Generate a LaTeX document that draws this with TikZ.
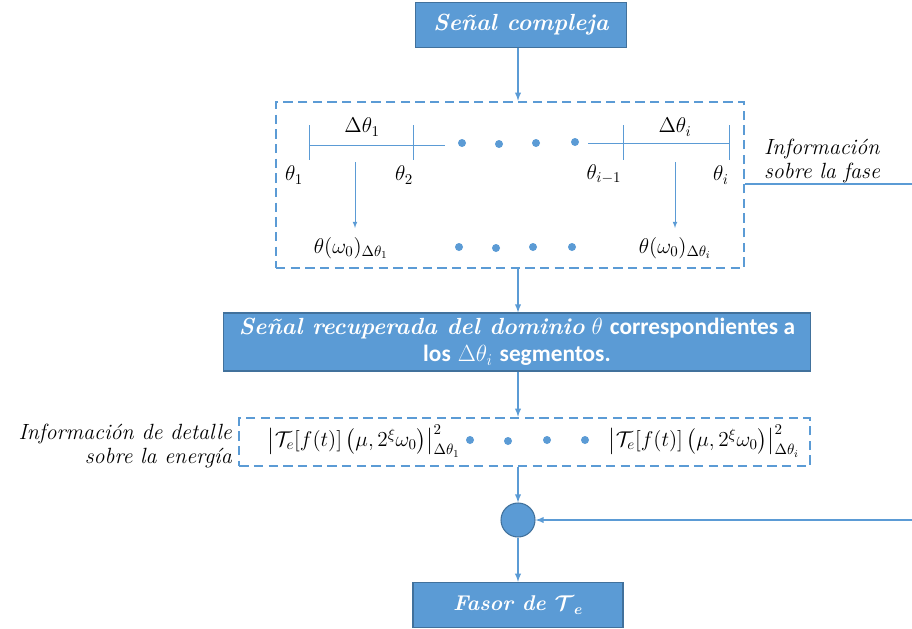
\documentclass[tikz,border=0pt]{standalone}
\usepackage{fix-cm}
\usepackage{amsmath}
\usepackage{amssymb}
\usepackage{bm}
\usepackage{fontspec}
\newfontfamily\calibri{Carlito}
\usetikzlibrary{positioning}

\definecolor{azul}{HTML}{5B9BD5}
\definecolor{borde}{HTML}{41719C}

\begin{document}
\begin{tikzpicture}[x=0.75pt, y=-0.75pt,
        every node/.style={inner sep=0pt},
        caja/.style={rectangle, draw=borde, fill=azul, text=white, line width=0.8pt, align=center},
        discont/.style={draw=azul, line width=1.9pt, dash pattern=on 7pt off 4pt},
        flecha/.style={draw=azul, line width=1.1pt, -latex},
        fina/.style={draw=azul, line width=0.6pt},
        etiqueta/.style={font=\fontsize{16}{19}\selectfont},
        rotulo/.style={font=\fontsize{16.5}{17.5}\selectfont\itshape},
        punto/.style={circle, fill=azul, minimum size=6pt}]

    \useasboundingbox (0,0) rectangle (912,628);

    % Top box
    \node[caja, minimum width=158pt, minimum height=34pt,
          font=\fontsize{17.5}{20}\selectfont\bfseries\itshape] (senal) at (521,25) {Señal compleja};

    % Phase segments
    \node[discont, minimum width=351pt, minimum height=124.5pt] (fase) at (510,185) {};
    \draw[fina] (309,145) -- (445,145);
    \draw[fina] (588,143) -- (729,143);
    \foreach \x in {309,413,623,729}
        \draw[fina] (\x,125) -- (\x,160);
    \node[etiqueta] (dt1) at (362,127) {$\Delta\theta_1$};
    \node[etiqueta] (dti) at (675,127) {$\Delta\theta_i$};
    \node[etiqueta] (th1) at (294,175) {$\theta_1$};
    \node[etiqueta] (th2) at (404,175) {$\theta_2$};
    \node[etiqueta] (thm) at (604,174) {$\theta_{i-1}$};
    \node[etiqueta] (thi) at (721,175) {$\theta_i$};
    \foreach \x/\y [count=\n] in {462/143,499/144,536/143,575/142}
        \node[punto] (pa\n) at (\x,\y) {};
    \node[etiqueta] (w1) at (351,248) {$\theta(\omega_0)_{\Delta\theta_1}$};
    \node[etiqueta] (wi) at (675,248) {$\theta(\omega_0)_{\Delta\theta_i}$};
    \foreach \x/\y [count=\n] in {459/247,496/248,533/247,572/247}
        \node[punto] (pb\n) at (\x,\y) {};
    \coordinate (a1) at (355,162);
    \coordinate (ai) at (675,162);
    \draw[flecha, line width=0.6pt] (a1) -- (355,228);
    \draw[flecha, line width=0.6pt] (ai) -- (675,228);
    \node[rotulo, align=left] (infofase) at (822,161) {Información\\sobre la fase};

    % Recovered signal
    \node[caja, minimum width=440pt, minimum height=43.5pt,
          font=\fontsize{17.5}{20}\selectfont] (recup) at (517,342)
        {{\bfseries\itshape Señal recuperada del dominio} $\theta$ {\calibri\bfseries correspondientes a}\\
         {\calibri\bfseries los} $\Delta\theta_i$ {\calibri\bfseries segmentos.}};

    % Energy terms
    \node[discont, minimum width=428pt, minimum height=36pt] (energia) at (524.5,442) {};
    \node[etiqueta] (e1) at (364,441)
        {$\left|\mathcal{T}_e[f(t)]\left(\mu,2^{\xi}\omega_0\right)\right|^2_{\Delta\theta_1}$};
    \node[etiqueta] (ei) at (704,441)
        {$\left|\mathcal{T}_e[f(t)]\left(\mu,2^{\xi}\omega_0\right)\right|^2_{\Delta\theta_i}$};
    \foreach \x/\y [count=\n] in {470/440,508/441,547/440,585/440}
        \node[punto] (pc\n) at (\x,\y) {};
    \node[rotulo, align=right, anchor=east] (detalle) at (232,446) {Información de detalle\\sobre la energía};

    % Sum and output
    \node[circle, fill=azul, draw=borde, line width=0.8pt, minimum size=25.5pt] (suma) at (518,520) {};
    \node[caja, minimum width=157.5pt, minimum height=34pt,
          font=\fontsize{16}{19}\selectfont\bfseries\itshape] (fasor) at (518,605) {Fasor de $\bm{\mathcal{T}_e}$};

    \draw[flecha] (senal.south -| suma) -- (fase.north -| suma);
    \draw[flecha] (fase.south -| suma) -- (recup.north -| suma);
    \draw[flecha] (recup.south -| suma) -- (energia.north -| suma);
    \draw[flecha] (energia.south -| suma) -- (suma);
    \draw[flecha] (suma) -- (fasor);
    \draw[flecha] (fase.east |- 0,184) -- (960,184) -- (960,520) -- (suma);
\end{tikzpicture}
\end{document}
